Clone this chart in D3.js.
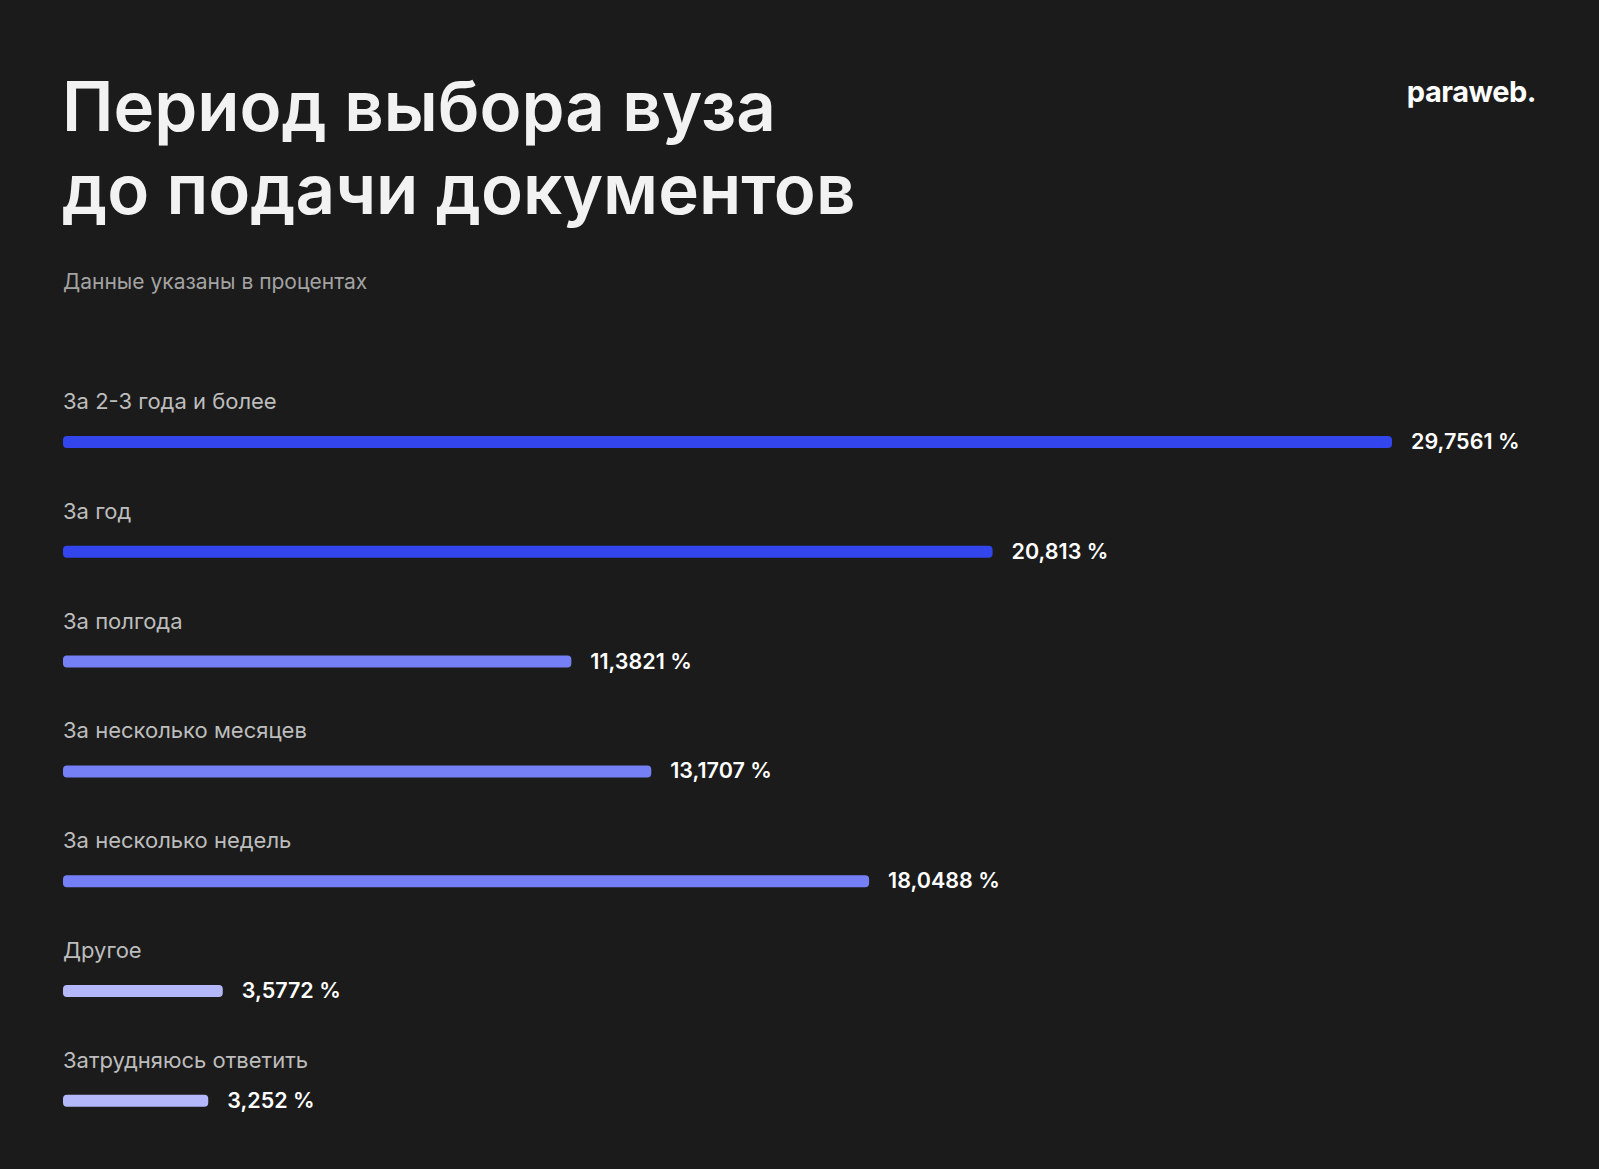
<!DOCTYPE html>
<html><head><meta charset="utf-8">
<script src="https://cdn.jsdelivr.net/npm/d3@7"></script>
<style>body{margin:0;background:#1b1b1b;}svg{display:block;font-family:Inter,"Noto Sans",sans-serif;}</style>
</head><body>
<script>
const categories = ["За 2-3 года и более","За год","За полгода","За несколько месяцев","За несколько недель","Другое","Затрудняюсь ответить"];
const values = [29.7561, 20.813, 11.3821, 13.1707, 18.0488, 3.5772, 3.252];
const valueLabels = ["29,7561 %","20,813 %","11,3821 %","13,1707 %","18,0488 %","3,5772 %","3,252 %"];
const colors = ["#3346ee","#3346ee","#7680f6","#7680f6","#7680f6","#b4b8fb","#b4b8fb"];

const W = 1599, H = 1169;
const svg = d3.select("body").append("svg").attr("width", W).attr("height", H);
svg.append("rect").attr("width", W).attr("height", H).attr("fill", "#1b1b1b");

svg.append("text").attr("x", 62).attr("y", 131).attr("fill", "#f2f2f2")
  .attr("font-size", 69).attr("font-weight", 600).text("Период выбора вуза");
svg.append("text").attr("x", 62).attr("y", 214).attr("fill", "#f2f2f2")
  .attr("font-size", 69).attr("font-weight", 600).text("до подачи документов");
svg.append("text").attr("x", 63).attr("y", 289).attr("fill", "#a3a3a3")
  .attr("font-size", 21).text("Данные указаны в процентах");
svg.append("text").attr("x", 1536).attr("y", 102).attr("text-anchor", "end").attr("fill", "#fff")
  .attr("font-size", 29).attr("font-weight", 700).attr("letter-spacing", -0.5).text("paraweb.");

const x = d3.scaleLinear().domain([0, 29.7561]).range([63, 1392]);
const y = d3.scaleBand().domain(categories).range([387, 387 + 109.8 * 7]);

const row = svg.append("g").selectAll("g").data(categories).enter().append("g")
  .attr("transform", d => `translate(0,${y(d)})`);
row.append("text").attr("x", 63).attr("y", 22).attr("fill", "#bdbdbd")
  .attr("font-size", 22).text(d => d);
row.append("rect").attr("x", x(0)).attr("y", 49).attr("height", 12).attr("rx", 4)
  .attr("width", (d, i) => x(values[i]) - x(0)).attr("fill", (d, i) => colors[i]);
row.append("text").attr("x", (d, i) => x(values[i]) + 19).attr("y", 62).attr("fill", "#fff")
  .attr("font-size", 21.5).attr("font-weight", 600).text((d, i) => valueLabels[i]);
</script>
</body></html>
